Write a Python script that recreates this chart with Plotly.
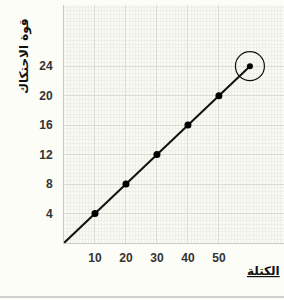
import plotly.graph_objects as go

mass = [0, 10, 20, 30, 40, 50, 60]
friction = [0, 4, 8, 12, 16, 20, 24]
x_ticks = [10, 20, 30, 40, 50]
y_ticks = [4, 8, 12, 16, 20, 24]
x_title = "الكتلة"
y_title = "قوة الاحتكاك"

W, H = 284, 300
L, R, T, B = 64, 0, 5, 57

fig = go.Figure()
fig.add_trace(go.Scatter(x=mass, y=friction, mode="lines",
                         line=dict(color="#111111", width=2), hoverinfo="skip"))
fig.add_trace(go.Scatter(x=mass[1:6], y=friction[1:6], mode="markers",
                         marker=dict(color="#000000", size=7, symbol="circle"),
                         hoverinfo="skip"))
fig.add_trace(go.Scatter(x=mass[6:], y=friction[6:], mode="markers",
                         marker=dict(color="#000000", size=6, symbol="circle"),
                         hoverinfo="skip"))
fig.add_trace(go.Scatter(x=mass[6:], y=friction[6:], mode="markers",
                         marker=dict(color="#111111", size=29, symbol="circle-open",
                                     line=dict(color="#111111", width=1.2)),
                         hoverinfo="skip"))

tickfont = dict(family="Liberation Sans, Arial", size=12, color="#333333", weight="bold")
fig.update_xaxes(range=[0, 71], tickvals=x_ticks, ticktext=[str(v) for v in x_ticks],
                 tickfont=tickfont, showline=True, linecolor="#c8cbc2", linewidth=1,
                 showgrid=True, gridcolor="#d9dcd2", gridwidth=1, dtick=5, tick0=0,
                 minor=dict(dtick=1, showgrid=True, gridcolor="#eef0e8", gridwidth=1),
                 zeroline=False, ticks="", ticklabelstandoff=4, fixedrange=True)
fig.update_yaxes(range=[0, 32.3], tickvals=y_ticks, ticktext=[str(v) for v in y_ticks],
                 tickfont=tickfont, showline=True, linecolor="#c8cbc2", linewidth=1,
                 showgrid=True, gridcolor="#d9dcd2", gridwidth=1, dtick=2, tick0=0,
                 minor=dict(dtick=0.5, showgrid=True, gridcolor="#eef0e8", gridwidth=1),
                 zeroline=False, ticks="", ticklabelstandoff=8, fixedrange=True)

fig.add_annotation(text=y_title, xref="paper", yref="paper", x=-39/220, y=(243 - 16) / 238,
                   xanchor="center", yanchor="top",
                   showarrow=False, textangle=-90,
                   font=dict(family="DejaVu Sans", size=12, color="#111111", weight="bold"))
fig.add_annotation(text="<u>" + x_title + "</u>", xref="paper", yref="paper",
                   x=(282 - L) / 220, y=(243 - 280) / 238, xanchor="right", showarrow=False,
                   font=dict(family="DejaVu Sans", size=12, color="#111111", weight="bold"))
fig.add_shape(type="line", xref="paper", yref="paper", x0=-L / 220, x1=1,
              y0=(243 - 297) / 238, y1=(243 - 297) / 238,
              line=dict(color="#cfcfcf", width=2))

fig.update_layout(width=W, height=H, margin=dict(l=L, r=R, t=T, b=B),
                  paper_bgcolor="#fdfdf8", plot_bgcolor="#f9faf3",
                  showlegend=False)
fig.write_html("out.html", config={"displayModeBar": False},
               post_script="document.body.style.margin='0';document.body.style.overflow='hidden';")
